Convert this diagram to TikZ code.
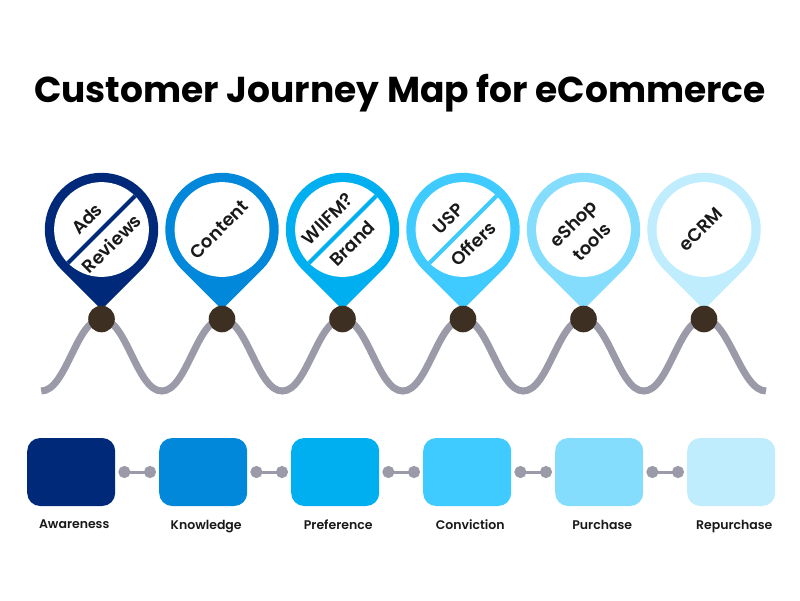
\documentclass[tikz,border=0pt]{standalone}
\usepackage{fontspec}
\setmainfont{Poppins}
\newfontfamily\semibold{Poppins SemiBold}
\usetikzlibrary{arrows.meta, positioning, backgrounds}
\definecolor{stageA}{HTML}{00297A}
\definecolor{stageB}{HTML}{0288DA}
\definecolor{stageC}{HTML}{00AFEF}
\definecolor{stageD}{HTML}{3FCBFF}
\definecolor{stageE}{HTML}{85DDFD}
\definecolor{stageF}{HTML}{C0EDFD}
\definecolor{wavegray}{HTML}{9A9AA8}
\definecolor{dotbrown}{HTML}{3D3022}
\tikzset{
  pin/.pic={\fill[pic actions] (0,80.2) -- (40.1,40.1) arc[start angle=45, end angle=-225, radius=56.7] -- cycle;
            \fill[white] (0,0) circle[radius=47.4];},
  slash/.style={line width=4pt},
  pintext/.style={font=\semibold\fontsize{18}{26}\selectfont, text=black!90, rotate=45, inner sep=0pt, align=center},
  dot/.style={circle, fill=dotbrown, minimum size=26.6pt, inner sep=0pt},
  wave/.style={line width=7pt, draw=wavegray},
  stage/.style={rectangle, rounded corners=13pt, minimum width=88pt, minimum height=68pt, inner sep=0pt},
  link/.style={{Circle[length=12pt]}-{Circle[length=12pt]}, line width=3pt, draw=wavegray, shorten <=3pt, shorten >=3pt},
  caption/.style={font=\semibold\fontsize{12.5}{15}\selectfont, text=black!90, inner sep=0pt}
}
\begin{document}
\begin{tikzpicture}[x=1pt, y=-1pt]
  \begin{scope}[on background layer]
    \fill[white] (0,0) rectangle (800,600);
  \end{scope}
  \useasboundingbox (0,0) rectangle (800,600);

  % Title
  \node[font=\bfseries\fontsize{36}{42}\selectfont, anchor=base] (title) at (400,102) {Customer Journey Map for eCommerce};

  % Pins
  \coordinate (c1) at (101.5,229.5);
  \coordinate (c2) at (222,229.5);
  \coordinate (c3) at (342.5,229.5);
  \coordinate (c4) at (463,229.5);
  \coordinate (c5) at (583.5,229.5);
  \coordinate (c6) at (704,229.5);
  \pic[fill=stageA] (p1) at (c1) {pin};
  \pic[fill=stageB] (p2) at (c2) {pin};
  \pic[fill=stageC] (p3) at (c3) {pin};
  \pic[fill=stageD] (p4) at (c4) {pin};
  \pic[fill=stageE] (p5) at (c5) {pin};
  \pic[fill=stageF] (p6) at (c6) {pin};
  \draw[slash, stageA] (c1) ++(135:47.4) -- ++(-45:94.8);
  \draw[slash, stageC] (c3) ++(135:47.4) -- ++(-45:94.8);
  \draw[slash, stageD] (c4) ++(135:47.4) -- ++(-45:94.8);
  \node[pintext] (ads) at ([shift={(-14.8,-10.6)}]c1) {Ads};
  \node[pintext] (reviews) at ([shift={(9.9,14.1)}]c1) {Reviews};
  \node[pintext] (content) at ([shift={(-3,0)}]c2) {Content};
  \node[pintext] (wiifm) at ([shift={(-14.8,-10.6)}]c3) {WIIFM?};
  \node[pintext] (brand) at ([shift={(9.9,14.1)}]c3) {Brand};
  \node[pintext] (usp) at ([shift={(-14.8,-10.6)}]c4) {USP};
  \node[pintext] (offers) at ([shift={(9.9,14.1)}]c4) {Offers};
  \node[pintext] (eshop) at ([shift={(-1,3)}]c5) {eShop\\tools};
  \node[pintext] (ecrm) at ([shift={(-3,0)}]c6) {eCRM};

  % Wave
  \node[dot] (d1) at (101.5,319) {};
  \node[dot] (d2) at (222,319) {};
  \node[dot] (d3) at (342.5,319) {};
  \node[dot] (d4) at (463,319) {};
  \node[dot] (d5) at (583.5,319) {};
  \node[dot] (d6) at (704,319) {};
  \begin{scope}[on background layer]
    \draw[wave] (41.25,391) .. controls +(25,0) and +(-25,0) .. (d1.center)
      .. controls +(25,0) and +(-25,0) .. (161.75,391) .. controls +(25,0) and +(-25,0) .. (d2.center)
      .. controls +(25,0) and +(-25,0) .. (282.25,391) .. controls +(25,0) and +(-25,0) .. (d3.center)
      .. controls +(25,0) and +(-25,0) .. (402.75,391) .. controls +(25,0) and +(-25,0) .. (d4.center)
      .. controls +(25,0) and +(-25,0) .. (523.25,391) .. controls +(25,0) and +(-25,0) .. (d5.center)
      .. controls +(25,0) and +(-25,0) .. (643.75,391) .. controls +(25,0) and +(-25,0) .. (d6.center)
      .. controls +(25,0) and +(-25,0) .. (766,391);
  \end{scope}

  % Stages
  \node[stage, fill=stageA] (aware) at (71.2,472) {};
  \node[stage, fill=stageB, right=43.6pt of aware] (know) {};
  \node[stage, fill=stageC, right=43.6pt of know] (prefer) {};
  \node[stage, fill=stageD, right=43.6pt of prefer] (convict) {};
  \node[stage, fill=stageE, right=43.6pt of convict] (purchase) {};
  \node[stage, fill=stageF, right=43.6pt of purchase] (repurchase) {};
  \node[caption, below=13.5pt of aware, xshift=3pt] (awarelbl) {Awareness};
  \node[caption, below=13.5pt of know, xshift=3pt] (knowlbl) {Knowledge};
  \node[caption, below=13.5pt of prefer, xshift=3pt] (preferlbl) {Preference};
  \node[caption, below=13.5pt of convict, xshift=3pt] (convictlbl) {Conviction};
  \node[caption, below=13.5pt of purchase, xshift=3pt] (purchaselbl) {Purchase};
  \node[caption, below=13.5pt of repurchase, xshift=3pt] (repurchaselbl) {Repurchase};

  % Connections
  \draw[link] (aware) -- (know);
  \draw[link] (know) -- (prefer);
  \draw[link] (prefer) -- (convict);
  \draw[link] (convict) -- (purchase);
  \draw[link] (purchase) -- (repurchase);
\end{tikzpicture}
\end{document}
